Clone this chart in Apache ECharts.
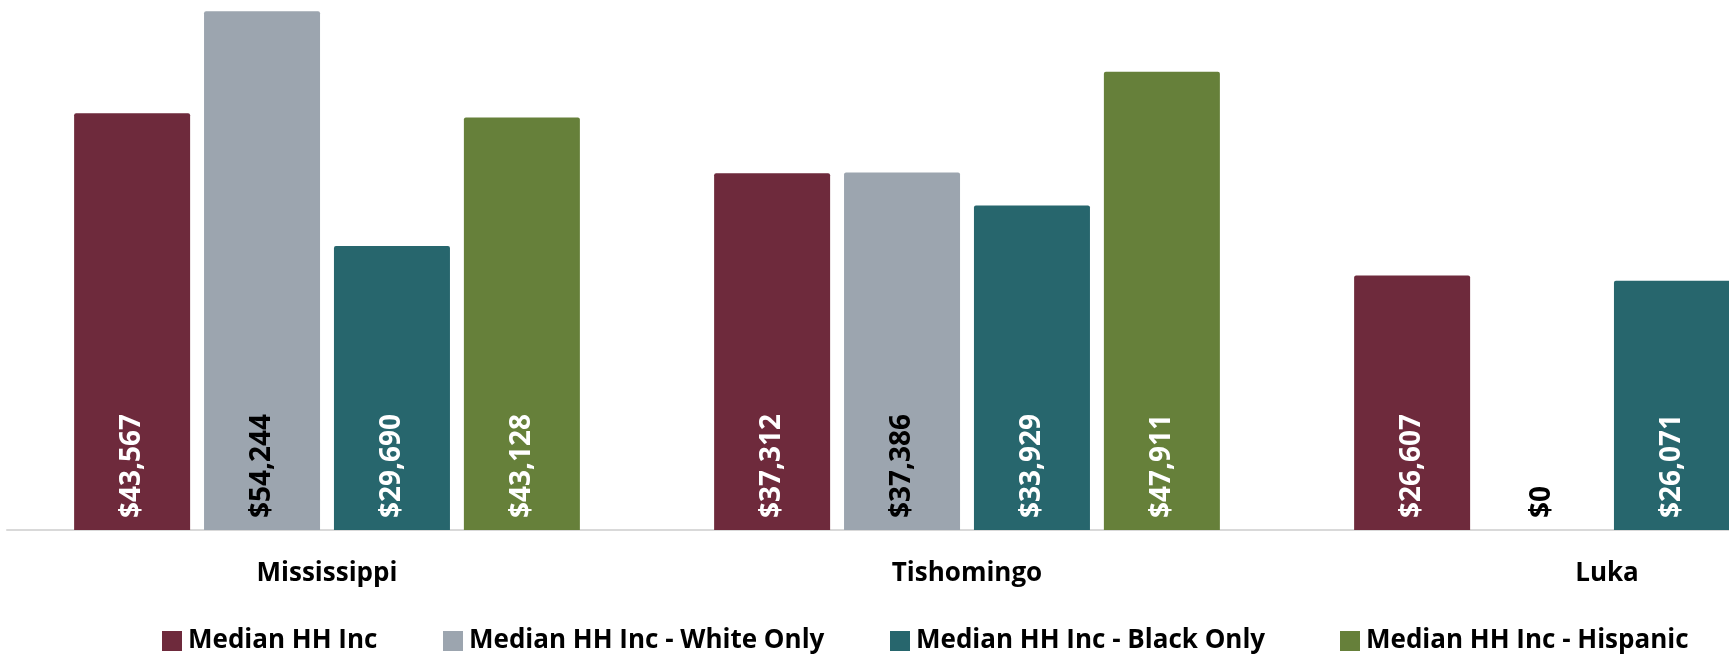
<!DOCTYPE html>
<html>
<head>
<meta charset="utf-8">
<script src="https://cdn.jsdelivr.net/npm/echarts@6/dist/echarts.min.js"></script>
<style>
html,body{margin:0;padding:0;background:#fff;}
#chart{width:1729px;height:657px;}
</style>
</head>
<body>
<div id="chart"></div>
<script>
const categories = ['Mississippi', 'Tishomingo', 'Luka'];
const seriesNames = ['Median HH Inc', 'Median HH Inc - White Only', 'Median HH Inc - Black Only', 'Median HH Inc - Hispanic'];
const medianAll = [43567, 37312, 26607];
const medianWhite = [54244, 37386, 0];
const medianBlack = [29690, 33929, 26071];
const medianHispanic = [43128, 47911, 0];
const colors = ['#6E2A3C', '#9CA5AF', '#27666D', '#66803A'];
const labelColors = ['#FFFFFF', '#000000', '#FFFFFF', '#FFFFFF'];
const values = [medianAll, medianWhite, medianBlack, medianHispanic];
const legendLefts = [162, 443, 890, 1340];

const FONT = '"Open Sans", "Noto Sans", sans-serif';
const chart = echarts.init(document.getElementById('chart'));

const series = seriesNames.map((name, i) => ({
  name: name,
  type: 'bar',
  data: values[i],
  barWidth: 116,
  barGap: '12%',
  itemStyle: { color: colors[i], borderRadius: [2, 2, 0, 0] },
  label: {
    show: true,
    position: 'insideBottom',
    rotate: 90,
    align: 'left',
    verticalAlign: 'middle',
    distance: 12,
    color: labelColors[i],
    fontFamily: FONT,
    fontWeight: 'bold',
    fontSize: 28,
    formatter: p => '$' + p.value.toLocaleString('en-US')
  },
  emphasis: { disabled: true }
}));
series[3].data = [
  medianHispanic[0],
  medianHispanic[1],
  { value: medianHispanic[2], label: { show: false } }
];

const legends = seriesNames.map((name, i) => ({
  data: [name],
  left: legendLefts[i],
  top: 628,
  padding: 0,
  itemWidth: 20,
  itemHeight: 20,
  icon: 'rect',
  selectedMode: false,
  textStyle: {
    color: '#000',
    fontFamily: FONT,
    fontWeight: 'bold',
    fontSize: 26,
    padding: [0, 0, 0, 1]
  }
}));

chart.setOption({
  animation: false,
  backgroundColor: '#fff',
  grid: { left: 7, top: 4, width: 1920, height: 526, containLabel: false, outerBoundsMode: 'none' },
  xAxis: {
    type: 'category',
    data: categories,
    axisLine: { show: true, lineStyle: { color: '#D9D9D9', width: 2 } },
    axisTick: { show: false },
    axisLabel: {
      margin: 31,
      color: '#000',
      fontFamily: FONT,
      fontWeight: 'bold',
      fontSize: 26
    }
  },
  yAxis: {
    type: 'value',
    min: 0,
    max: 55000,
    show: false,
    splitLine: { show: false }
  },
  legend: legends,
  series: series
});
</script>
</body>
</html>
